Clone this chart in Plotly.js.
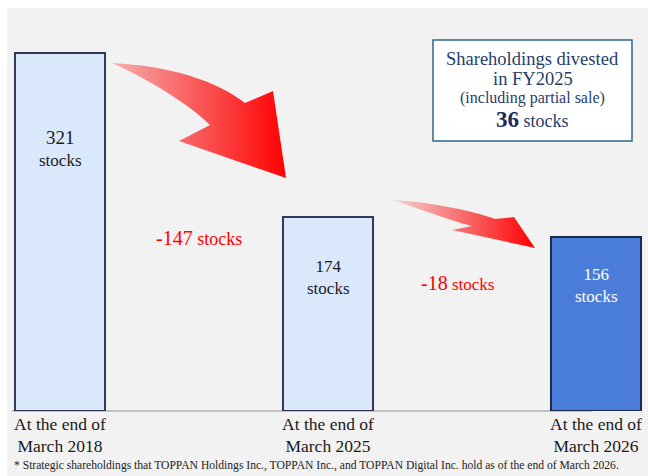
<!DOCTYPE html>
<html>
<head>
<meta charset="utf-8">
<script src="https://cdn.plot.ly/plotly-3.0.1.min.js"></script>
<style>html,body{margin:0;padding:0;background:#fff;}#chart{width:648px;height:476px;}</style>
</head>
<body>
<div id="chart"></div>
<script>
// ---- data ----
const categories = ["At the end of<br>March 2018", "At the end of<br>March 2025", "At the end of<br>March 2026"];
const stockCounts = [321, 174, 156];
const divestedFY2025 = 36;
const footnote = "* Strategic shareholdings that TOPPAN Holdings Inc., TOPPAN Inc., and TOPPAN Digital Inc. hold as of the end of March 2026.";

// ---- layout helpers (pixel -> paper) ----
const W = 648, H = 476;
const px = x => x / W;
const py = y => 1 - y / H;
const SERIF = "Liberation Serif";
const xIdx = [0, 1, 2];

const barColors = ["#dae8fc", "#dae8fc", "#4a7dd9"];
const barLines = ["#2f3b59", "#2f3b59", "#1c2a4a"];

const trace = {
  type: "bar",
  x: xIdx,
  y: stockCounts,
  width: 0.336,
  marker: { color: barColors, line: { color: barLines, width: 2 } },
  hoverinfo: "skip",
  showlegend: false
};

// arrows as decorative svg overlay
const arrowSvg =
  '<svg xmlns="http://www.w3.org/2000/svg" width="648" height="476" viewBox="0 0 648 476">' +
  '<defs>' +
  '<linearGradient id="g1" gradientUnits="userSpaceOnUse" x1="112" y1="0" x2="286" y2="0">' +
  '<stop offset="0" stop-color="#ff0000" stop-opacity="0.28"/><stop offset="1" stop-color="#ff0000" stop-opacity="1"/></linearGradient>' +
  '<linearGradient id="g2" gradientUnits="userSpaceOnUse" x1="392" y1="0" x2="535" y2="0">' +
  '<stop offset="0" stop-color="#ff0000" stop-opacity="0.12"/><stop offset="1" stop-color="#ff0000" stop-opacity="1"/></linearGradient>' +
  '</defs>' +
  '<path fill="url(#g1)" d="M112,63 C170,66 215,80 245,103 L273,91 L286,178 L179,141 L210,125 C190,105 150,80 112,63 Z"/>' +
  '<path fill="url(#g2)" d="M392,200 C430,202 470,210 495,219 L514,217 L535,248 L452,230 L472,226 C445,219 415,207 392,200 Z"/>' +
  '</svg>';

const labelPos = [148, 277.5, 285.5];
const labelColors = ["#1a1a1a", "#1a1a1a", "#ffffff"];
const numSizes = [19, 17, 17];

const annotations = [];
stockCounts.forEach((v, i) => {
  annotations.push({
    xref: "x", yref: "paper", x: xIdx[i], y: py(labelPos[i]),
    xanchor: "center", yanchor: "middle", showarrow: false,
    text: "<span style='font-size:" + numSizes[i] + "px'>" + v + "</span><br>stocks",
    font: { family: SERIF, size: 17, color: labelColors[i] }
  });
});
// change labels
const deltaPos = [[199, 238, 20, 18], [457, 283, 20, 17]];
for (let i = 0; i < 2; i++) {
  const d = stockCounts[i + 1] - stockCounts[i];
  const p = deltaPos[i];
  annotations.push({
    xref: "paper", yref: "paper", x: px(p[0]), y: py(p[1]),
    xanchor: "center", yanchor: "middle", showarrow: false,
    text: "<span style='font-size:" + p[2] + "px'>" + d + "</span> stocks",
    font: { family: SERIF, size: p[3], color: "#ff0000" }
  });
}
// box text
const boxLines = [
  ["Shareholdings divested", 59, 18.5],
  ["in FY2025", 79, 18.5],
  ["(including partial sale)", 98, 16]
];
boxLines.forEach(l => annotations.push({
  xref: "paper", yref: "paper", x: px(532.5), y: py(l[1]),
  xanchor: "center", yanchor: "middle", showarrow: false,
  text: l[0], font: { family: SERIF, size: l[2], color: "#263d6b" }
}));
annotations.push({
  xref: "paper", yref: "paper", x: px(532.5), y: py(119),
  xanchor: "center", yanchor: "middle", showarrow: false,
  text: "<span style='font-size:23px;color:#1a2b5c'><b>" + divestedFY2025 + "</b></span> stocks",
  font: { family: SERIF, size: 18, color: "#263d6b" }
});
// footnote
annotations.push({
  xref: "paper", yref: "paper", x: px(12), y: py(465),
  xanchor: "left", yanchor: "middle", showarrow: false,
  text: footnote, font: { family: SERIF, size: 11.6, color: "#222222" }
});

const layout = {
  width: W, height: H,
  margin: { l: 0, r: 0, t: 0, b: 0 },
  paper_bgcolor: "#ffffff",
  plot_bgcolor: "rgba(0,0,0,0)",
  font: { family: SERIF },
  showlegend: false,
  xaxis: {
    domain: [0, 1], range: [-60 / 268, 2 + 52 / 268],
    tickvals: xIdx, ticktext: categories,
    showgrid: false, zeroline: false, showline: false, ticks: "",
    tickfont: { family: SERIF, size: 17.5, color: "#1a1a1a" },
    fixedrange: true
  },
  yaxis: {
    domain: [py(411), 1], range: [0, 411 / ((411 - 53) / 321)],
    visible: false, showgrid: false, zeroline: false, fixedrange: true
  },
  shapes: [
    { type: "rect", xref: "paper", yref: "paper", x0: px(7), x1: 1, y0: 0, y1: py(8),
      fillcolor: "#f2f2f2", line: { width: 0 }, layer: "below" },
    { type: "line", xref: "paper", yref: "paper", x0: px(12), x1: px(592), y0: py(411), y1: py(411),
      line: { color: "#c0c0c0", width: 2 }, layer: "below" },
    { type: "rect", xref: "paper", yref: "paper", x0: px(433), x1: px(632), y0: py(141), y1: py(40),
      fillcolor: "#ffffff", line: { color: "#2e6690", width: 1.5 }, layer: "above" }
  ],
  images: [{
    source: "data:image/svg+xml;charset=utf-8," + encodeURIComponent(arrowSvg),
    xref: "paper", yref: "paper", x: 0, y: 1, sizex: 1, sizey: 1,
    xanchor: "left", yanchor: "top", sizing: "stretch", layer: "above"
  }],
  annotations: annotations
};

Plotly.newPlot("chart", [trace], layout, { displayModeBar: false, staticPlot: true });
</script>
</body>
</html>
